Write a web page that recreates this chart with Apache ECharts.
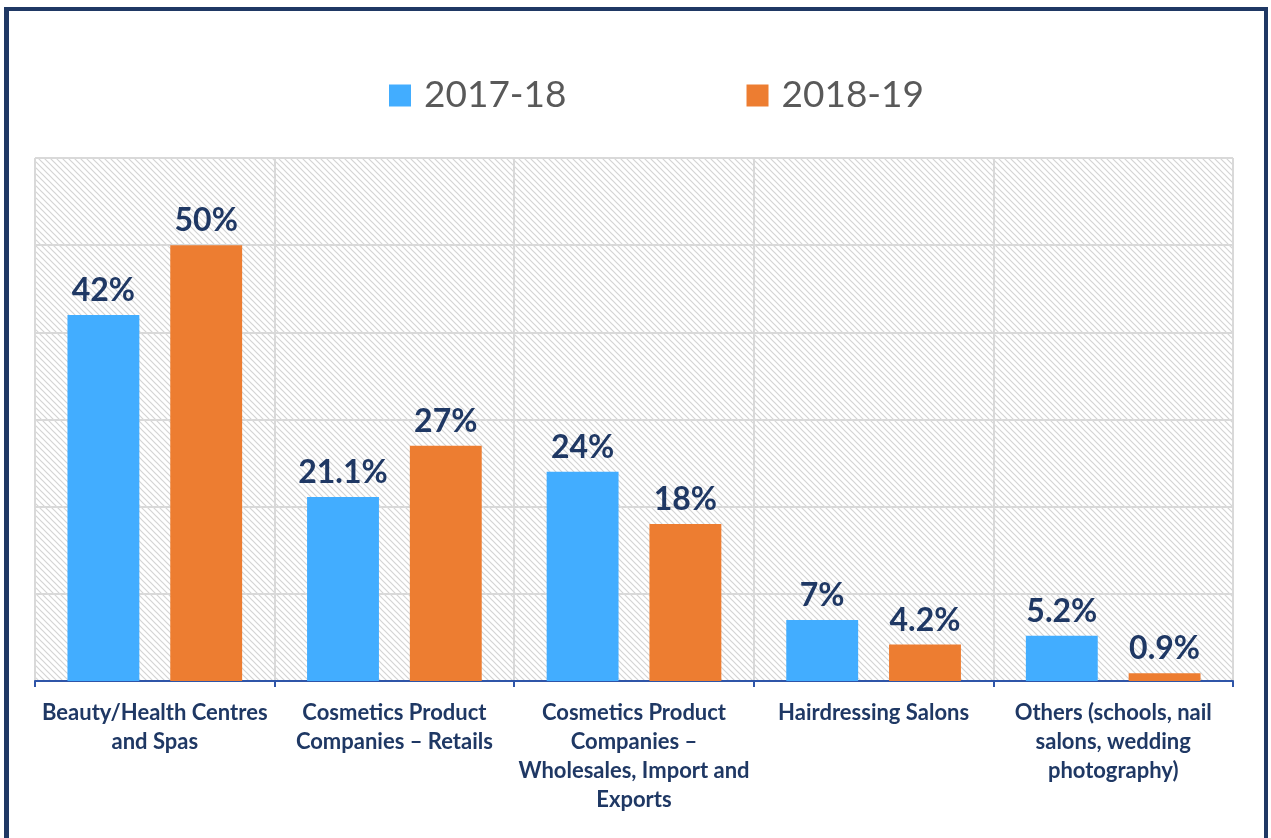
<!DOCTYPE html>
<html><head><meta charset="utf-8">
<script src="https://cdn.jsdelivr.net/npm/echarts@6/dist/echarts.min.js"></script>
<style>
html,body{margin:0;padding:0;background:#fff;}
#frame{position:absolute;left:4px;top:7px;width:1264px;height:840px;border-left:5px solid #1f3864;border-top:4px solid #1f3864;border-right:4px solid #1f3864;box-sizing:border-box;}
#chart{position:absolute;left:0;top:0;width:1271px;height:838px;}
</style></head>
<body>
<div id="frame"></div>
<div id="chart"></div>
<script>
const categories = [
  "Beauty/Health Centres\nand Spas",
  "Cosmetics Product\nCompanies – Retails",
  "Cosmetics Product\nCompanies –\nWholesales, Import and\nExports",
  "Hairdressing Salons",
  "Others (schools, nail\nsalons, wedding\nphotography)"
];
const seriesNames = ["2017-18", "2018-19"];
const values2017 = [42, 21.1, 24, 7, 5.2];
const values2018 = [50, 27, 18, 4.2, 0.9];

const pc = document.createElement('canvas');
pc.width = 6; pc.height = 6;
const ctx = pc.getContext('2d');
ctx.fillStyle = '#ffffff';
ctx.fillRect(0,0,6,6);
ctx.strokeStyle = '#d4d4d4';
ctx.lineWidth = 1.2;
ctx.beginPath();
ctx.moveTo(-1,-1); ctx.lineTo(7,7);
ctx.moveTo(-1,5); ctx.lineTo(1,7);
ctx.moveTo(5,-1); ctx.lineTo(7,1);
ctx.stroke();

const chart = echarts.init(document.getElementById('chart'), null, {renderer:'canvas'});
const labelStyle = {
  show: true, position: 'top', distance: 8,
  formatter: p => p.value + '%',
  color: '#1f3864', fontFamily: 'Lato', fontWeight: 'bold', fontSize: 32
};
chart.setOption({
  animation: false,
  backgroundColor: 'transparent',
  legend: {
    data: seriesNames,
    left: 384, top: 72,
    itemWidth: 22, itemHeight: 22, itemGap: 180,
    icon: 'rect',
    textStyle: { color: '#595959', fontFamily: 'Lato', fontSize: 37, lineHeight: 37, padding: [0,0,0,8] }
  },
  grid: {
    left: 35, right: 38, top: 158, bottom: 157,
    show: true, borderWidth: 0,
    backgroundColor: { image: pc, repeat: 'repeat' }
  },
  xAxis: {
    type: 'category', data: categories,
    axisLine: { lineStyle: { color: '#2f55a8', width: 2 } },
    axisTick: { show: true, length: 6, lineStyle: { color: '#2f55a8', width: 2 } },
    splitLine: { show: true, interval: 0, lineStyle: { color: '#d9d9d9', width: 2 } },
    axisLabel: { interval: 0, margin: 17, color: '#1f3864', fontFamily: 'Lato', fontWeight: 'bold', fontSize: 22, lineHeight: 29 }
  },
  yAxis: {
    type: 'value', min: 0, max: 60, interval: 10,
    axisLabel: { show: false }, axisLine: { show: false }, axisTick: { show: false },
    splitLine: { show: true, lineStyle: { color: '#d9d9d9', width: 2 } }
  },
  series: [
    { name: seriesNames[0], type: 'bar', data: values2017, barWidth: '30%', barGap: '43%',
      itemStyle: { color: '#42adff' }, label: labelStyle },
    { name: seriesNames[1], type: 'bar', data: values2018, barWidth: '30%', barGap: '43%',
      itemStyle: { color: '#ed7d31' }, label: labelStyle }
  ]
});
</script>
</body></html>
